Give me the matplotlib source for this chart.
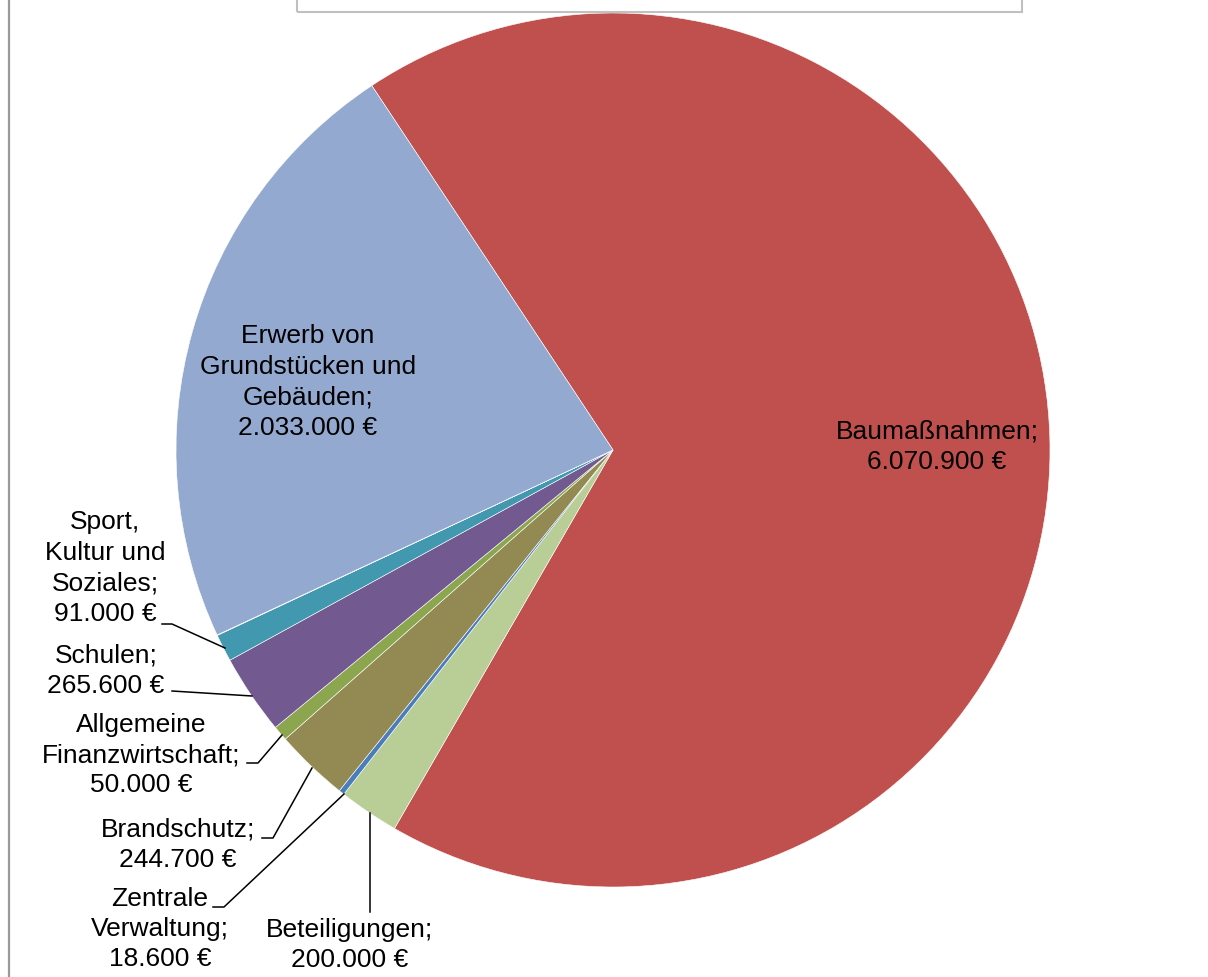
import matplotlib
matplotlib.use("Agg")
import matplotlib.pyplot as plt
from matplotlib.patches import Rectangle

plt.rcParams['font.family'] = ['Liberation Sans', 'DejaVu Sans']

# Data (clockwise from the top boundary)
categories = ["Baumaßnahmen", "Beteiligungen", "Zentrale Verwaltung", "Brandschutz",
              "Allgemeine Finanzwirtschaft", "Schulen", "Sport, Kultur und Soziales",
              "Sonstiges", "Erwerb von Grundstücken und Gebäuden"]
values = [6070900, 200000, 18600, 244700, 50000, 265600, 91000, 1500, 2033000]
label_text = ["Baumaßnahmen;", "Beteiligungen;", "Zentrale\nVerwaltung;", "Brandschutz;",
              "Allgemeine\nFinanzwirtschaft;", "Schulen;", "Sport,\nKultur und\nSoziales;",
              None, "Erwerb von\nGrundstücken und\nGebäuden;"]
colors = ["#C0504D", "#B9CD96", "#4A7EBB", "#938953", "#8CA650", "#72598F", "#4198AF",
          "#F59D56", "#94A9CF"]

W, H = 1208, 977
fig = plt.figure(figsize=(W / 100, H / 100), dpi=100)
ax = fig.add_axes([0, 0, 1, 1])

def Y(py):
    return H - py

cx, cy, r = 613, 450, 437
ax.pie(values, colors=colors, startangle=123.5, counterclock=False,
       center=(cx, Y(cy)), radius=r, frame=True,
       wedgeprops=dict(linewidth=0.4, edgecolor='white'))
ax.set_xlim(0, W)
ax.set_ylim(0, H)
ax.set_aspect('equal')
ax.axis('off')

def fmt(v):
    return f"{v:,}".replace(",", ".") + " €"

# label positions (pixel centers)
label_pos = {0: (937, 447), 1: (350, 945), 2: (160, 929), 3: (178, 845),
             4: (141, 755), 5: (106, 671), 6: (105, 568), 8: (308, 382)}
for i, (px, py) in label_pos.items():
    ax.text(px, Y(py), label_text[i] + "\n" + fmt(values[i]), ha='center', va='center',
            fontsize=19, linespacing=1.34, color='black')

# leader lines
leaders = [
    [(162, 624), (172, 624), (225, 648)],
    [(172, 691), (252, 696)],
    [(247, 763), (258, 763), (282, 735)],
    [(262, 838), (273, 838), (312, 768)],
    [(213, 907), (224, 907), (344, 794)],
    [(370, 813), (370, 912)],
]
for pts in leaders:
    xs = [p[0] for p in pts]
    ys = [Y(p[1]) for p in pts]
    ax.plot(xs, ys, color='black', linewidth=1.1)

# frame elements
ax.plot([9, 9], [0, H], color='#9A9A9A', linewidth=1.6)
ax.add_patch(Rectangle((297, Y(12)), 1022 - 297, 40, fill=False,
                       edgecolor='#C0C0C0', linewidth=1.5, clip_on=True))

fig.savefig("out.png", dpi=100)
